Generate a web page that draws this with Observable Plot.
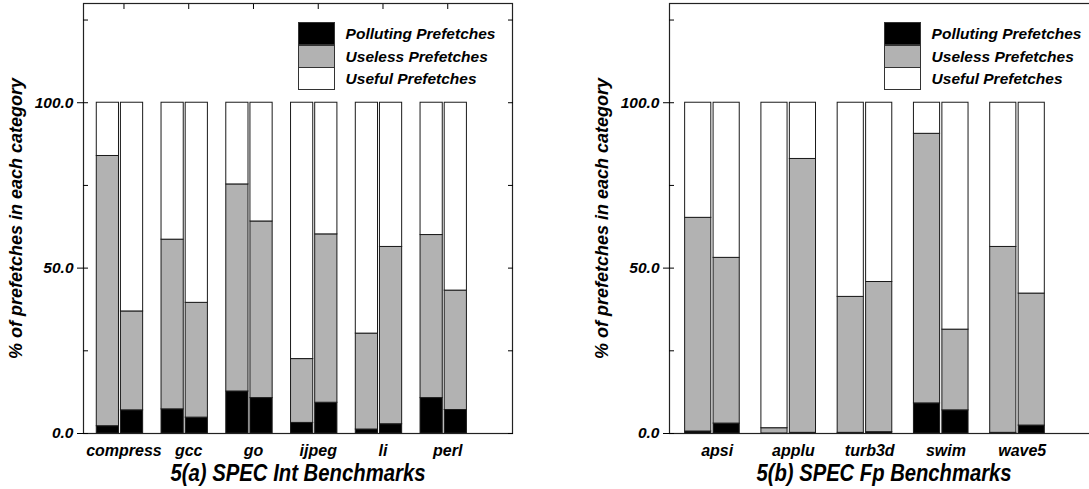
<!DOCTYPE html>
<html>
<head>
<meta charset="utf-8">
<script src="https://cdn.jsdelivr.net/npm/d3@7"></script>
<script src="https://cdn.jsdelivr.net/npm/@observablehq/plot@0.6"></script>
<style>
html, body { margin: 0; padding: 0; background: #fff; }
#fig { position: relative; width: 1089px; height: 489px; overflow: hidden;
  font-family: "Liberation Sans", Arial, Helvetica, sans-serif; font-weight: bold; font-style: italic; color: #000; }
.panel { position: absolute; top: 0; height: 489px; }
.panel svg { max-width: none !important; }
.legend { position: absolute; top: 22px; }
.sw { position: absolute; left: 0; width: 37px; height: 23px; box-sizing: border-box; border: 1px solid #333; }
.lt { position: absolute; left: 48px; font-size: 15.5px; line-height: 23px; white-space: nowrap; }
</style>
</head>
<body>
<div id="fig"></div>
<script>
// ---- data ----
const categories = ["Polluting Prefetches", "Useless Prefetches", "Useful Prefetches"];
const categoryColors = ["#000000", "#b2b2b2", "#ffffff"];
const yLabel = "% of prefetches in each category";
const yTicks = [0, 50, 100];
const yMinorTicks = [0, 25, 50, 75, 100, 125];

// Panel (a): SPEC Int
const intTitle = "5(a) SPEC Int Benchmarks";
const intBenchmarks = ["compress", "gcc", "go", "ijpeg", "li", "perl"];
const intPollutingA = [2.2, 7.3, 12.7, 3.2, 1.2, 10.7];
const intUselessA   = [81.7, 51.3, 62.6, 19.3, 29.0, 49.3];
const intUsefulA    = [16.1, 41.4, 24.7, 77.5, 69.8, 40.0];
const intPollutingB = [7.0, 4.8, 10.7, 9.3, 2.8, 7.1];
const intUselessB   = [29.9, 34.7, 53.4, 50.9, 53.6, 36.1];
const intUsefulB    = [63.1, 60.5, 35.9, 39.8, 43.6, 56.8];

// Panel (b): SPEC Fp
const fpTitle = "5(b) SPEC Fp Benchmarks";
const fpBenchmarks = ["apsi", "applu", "turb3d", "swim", "wave5"];
const fpPollutingA = [0.6, 0.0, 0.2, 9.1, 0.2];
const fpUselessA   = [64.6, 1.6, 41.1, 81.5, 56.2];
const fpUsefulA    = [34.8, 98.4, 58.7, 9.4, 43.6];
const fpPollutingB = [3.0, 0.2, 0.4, 7.0, 2.4];
const fpUselessB   = [50.1, 82.8, 45.4, 24.4, 39.9];
const fpUsefulB    = [46.9, 17.0, 54.2, 68.6, 57.7];

// ---- layout ----
const barOffsets = [[-0.42, -0.077], [-0.047, 0.296]];

function buildRows(benches, variants) {
  const rows = [];
  benches.forEach((b, i) => {
    variants.forEach((series, v) => {
      let base = 0;
      series.forEach((arr, c) => {
        rows.push({bench: b, pos: i + 1, variant: v, category: categories[c], y1: base, y2: base + arr[i]});
        base += arr[i];
      });
    });
  });
  return rows;
}

const font = '"Liberation Sans", Arial, Helvetica, sans-serif';

function panel({benches, rows, title, width, marginLeft, marginRight, topTicks}) {
  const n = benches.length;
  const xt = d3.range(1, n + 1);
  const svg = Plot.plot({
    width, height: 489,
    marginLeft, marginRight, marginTop: 3, marginBottom: 56,
    style: {fontFamily: font, fontWeight: "bold", fontStyle: "italic", color: "#000", background: "transparent", overflow: "visible", maxWidth: "none"},
    x: {type: "linear", domain: [0.375, n + 1]},
    y: {domain: [0, 130]},
    color: {domain: categories, range: categoryColors},
    marks: [
      Plot.rect(rows, {
        x1: d => d.pos + barOffsets[d.variant][0],
        x2: d => d.pos + barOffsets[d.variant][1],
        y1: "y1", y2: "y2",
        fill: "category", stroke: "#1a1a1a", strokeWidth: 1
      }),
      Plot.frame({stroke: "#222", strokeWidth: 1.2}),
      Plot.axisY({anchor: "left", ticks: yTicks, tickSize: 6, tickPadding: 4,
        tickFormat: d => d.toFixed(1), fontSize: 15.5, label: null}),
      Plot.axisY({anchor: "left", ticks: yMinorTicks, tickSize: -5, fill: "none", label: null}),
      Plot.axisY({anchor: "right", ticks: yMinorTicks, tickSize: -5, fill: "none", label: null}),
      topTicks ? Plot.axisX({anchor: "top", ticks: xt, tickSize: -5, fill: "none", label: null}) : null,
      Plot.axisX({anchor: "bottom", ticks: xt, tickSize: 0, tickPadding: 11,
        tickFormat: i => benches[i - 1], fontSize: 16, label: null}),
      Plot.text([yLabel], {frameAnchor: "left", dx: -67, rotate: -90, textAnchor: "middle", lineAnchor: "middle",
        fontSize: 18, text: d => d, fill: "#000"}),
      Plot.text([title], {frameAnchor: "bottom", dy: 47, lineAnchor: "bottom", textAnchor: "middle",
        fontSize: 23, text: d => d, fill: "#000"})
    ]
  });
  svg.querySelectorAll("text").forEach(t => {
    if (t.textContent === title) {
      t.setAttribute("textLength", 255);
      t.setAttribute("lengthAdjust", "spacingAndGlyphs");
    }
  });
  return svg;
}

function legend(left) {
  const lg = document.createElement("div");
  lg.className = "legend";
  lg.style.left = left + "px";
  categories.forEach((c, k) => {
    const sw = document.createElement("div");
    sw.className = "sw";
    sw.style.top = (k * 22.7) + "px";
    sw.style.background = categoryColors[k];
    lg.appendChild(sw);
    const t = document.createElement("div");
    t.className = "lt";
    t.style.top = (k * 22.7) + "px";
    t.textContent = c;
    lg.appendChild(t);
  });
  return lg;
}

const fig = document.getElementById("fig");

const configs = [
  {benches: intBenchmarks, title: intTitle, left: 0, width: 545, marginLeft: 83, marginRight: 33, topTicks: true,
   variants: [[intPollutingA, intUselessA, intUsefulA], [intPollutingB, intUselessB, intUsefulB]]},
  {benches: fpBenchmarks, title: fpTitle, left: 544, width: 560, marginLeft: 125, marginRight: 6, topTicks: false,
   variants: [[fpPollutingA, fpUselessA, fpUsefulA], [fpPollutingB, fpUselessB, fpUsefulB]]}
];

configs.forEach(cfg => {
  const div = document.createElement("div");
  div.className = "panel";
  div.style.left = cfg.left + "px";
  div.style.width = cfg.width + "px";
  const rows = buildRows(cfg.benches, cfg.variants);
  div.appendChild(panel({benches: cfg.benches, rows, title: cfg.title, width: cfg.width,
    marginLeft: cfg.marginLeft, marginRight: cfg.marginRight, topTicks: cfg.topTicks}));
  div.appendChild(legend(cfg.marginLeft + 214.6));
  fig.appendChild(div);
});
</script>
</body>
</html>
